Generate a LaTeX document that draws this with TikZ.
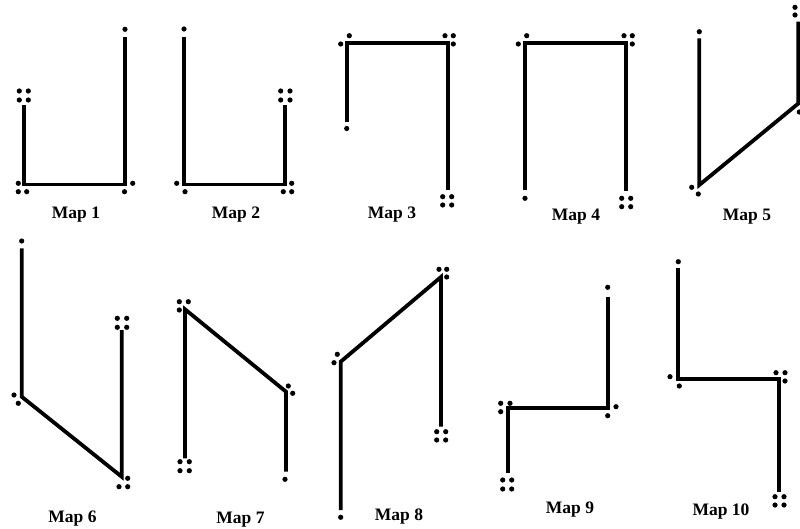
\documentclass[tikz,border=0pt]{standalone}
\usepackage{fontspec}
\setmainfont{Liberation Serif}
\begin{document}
\begin{tikzpicture}[x=1pt,y=-1pt,
  route/.style={line width=3.8pt,line join=miter,line cap=butt},
  lbl/.style={font=\bfseries\fontsize{17.5}{19}\selectfont,inner sep=0pt,anchor=center}]
\useasboundingbox (0,0) rectangle (800,529);
\newcommand{\mapdots}[1]{\foreach \p in {#1} \fill \p circle (2.6);}
% ---------- Map 1
\coordinate (a1) at (24,105); \coordinate (b1) at (24,184.5);
\coordinate (c1) at (125,184.5); \coordinate (d1) at (125,37.5);
\draw[route] (a1) -- (b1) -- (c1) -- (d1);
\mapdots{(125,29.3),(19.3,91),(28.3,91),(19.3,100),(28.3,100),(18.3,183.3),(18.3,191.7),(26.7,191.7),(132.7,183.3),(124.5,191.7)}
\node[lbl] (l1) at (76,215) {Map 1};
% ---------- Map 2
\coordinate (a2) at (184,37); \coordinate (b2) at (184,184.5);
\coordinate (c2) at (285,184.5); \coordinate (d2) at (285,105);
\draw[route] (a2) -- (b2) -- (c2) -- (d2);
\mapdots{(184,29),(280.7,91),(290,91),(280.7,100),(290,100),(176.7,183.3),(185,191.7),(291.7,183.3),(283.3,191.7),(291.7,191.7)}
\node[lbl] (l2) at (236,215) {Map 2};
% ---------- Map 3
\coordinate (a3) at (346.7,122); \coordinate (b3) at (346.7,42.7);
\coordinate (c3) at (447.7,42.7); \coordinate (d3) at (447.7,190);
\draw[route] (a3) -- (b3) -- (c3) -- (d3);
\mapdots{(346.7,128.5),(349.3,35.7),(340.7,44),(445,35.7),(453.3,35.7),(453.3,44),(442.7,196.7),(451.7,196.7),(442.7,205),(451.7,205)}
\node[lbl] (l3) at (392,215) {Map 3};
% ---------- Map 4
\coordinate (a4) at (525,190); \coordinate (b4) at (525,42.7);
\coordinate (c4) at (626,42.7); \coordinate (d4) at (626,191.5);
\draw[route] (a4) -- (b4) -- (c4) -- (d4);
\mapdots{(525,198.3),(526.7,35.7),(518.3,44),(624,35.7),(632.3,35.7),(632.3,44),(621.7,198.3),(630.7,198.3),(621.7,206.7),(630.7,206.7)}
\node[lbl] (l4) at (576,217) {Map 4};
% ---------- Map 5
\coordinate (a5) at (699.3,38.5); \coordinate (b5) at (699.3,185);
\coordinate (c5) at (798.3,103.5); \coordinate (d5) at (798.3,21.7);
\draw[route] (a5) -- (b5) -- (c5) -- (d5);
\mapdots{(699.3,31.7),(691.7,187.3),(698.3,194),(799.3,112),(795,7.3),(795,15)}
\node[lbl] (l5) at (747,217) {Map 5};
% ---------- Map 6
\coordinate (a6) at (21.7,248.3); \coordinate (b6) at (21.7,396.7);
\coordinate (c6) at (121.7,476.7); \coordinate (d6) at (121.7,330);
\draw[route] (a6) -- (b6) -- (c6) -- (d6);
\mapdots{(21.7,241),(117.3,318.3),(126.7,318.3),(117.3,327.3),(126.7,327.3),(14,395),(18.3,403.3),(127.7,478.3),(119,486.7),(127.7,486.7)}
\node[lbl] (l6) at (72.5,519) {Map 6};
% ---------- Map 7
\coordinate (a7) at (185,458.3); \coordinate (b7) at (185,309.3);
\coordinate (c7) at (286,391.7); \coordinate (d7) at (286,471.7);
\draw[route] (a7) -- (b7) -- (c7) -- (d7);
\mapdots{(179.3,301.7),(188.3,301.7),(179.3,310),(285,479.3),(288.3,386),(292.7,393.3),(180,461.7),(189.3,461.7),(180,470.7),(189.3,470.7)}
\node[lbl] (l7) at (240.5,520) {Map 7};
% ---------- Map 8
\coordinate (a8) at (340.7,510); \coordinate (b8) at (340.7,361.7);
\coordinate (c8) at (441,277); \coordinate (d8) at (441,426.7);
\draw[route] (a8) -- (b8) -- (c8) -- (d8);
\mapdots{(340.7,517.3),(337.3,354.3),(334,362.7),(439,269.3),(446.7,269.3),(446.7,277),(436.7,431.7),(445.7,431.7),(436.7,440),(445.7,440)}
\node[lbl] (l8) at (399,516.5) {Map 8};
% ---------- Map 9
\coordinate (a9) at (607.7,296.7); \coordinate (b9) at (607.7,408.3);
\coordinate (c9) at (508.3,408.3); \coordinate (d9) at (508.3,473.3);
\draw[route] (a9) -- (b9) -- (c9) -- (d9);
\mapdots{(607.7,287.3),(616,406.7),(607.7,415.7),(500.7,403.3),(510,403.3),(500.7,411.7),(502.7,480),(511.7,480),(502.7,489),(511.7,489)}
\node[lbl] (l9) at (570,510) {Map 9};
% ---------- Map 10
\coordinate (a10) at (678.3,268.3); \coordinate (b10) at (678.3,379.3);
\coordinate (c10) at (779.3,379.3); \coordinate (d10) at (779.3,491.7);
\draw[route] (a10) -- (b10) -- (c10) -- (d10);
\mapdots{(678.3,261.7),(670,376.7),(679.3,386),(776,372.7),(785,372.7),(785,381),(775,496.7),(784,496.7),(775,505),(784,505)}
\node[lbl] (l10) at (721,511.5) {Map 10};
\end{tikzpicture}
\end{document}
